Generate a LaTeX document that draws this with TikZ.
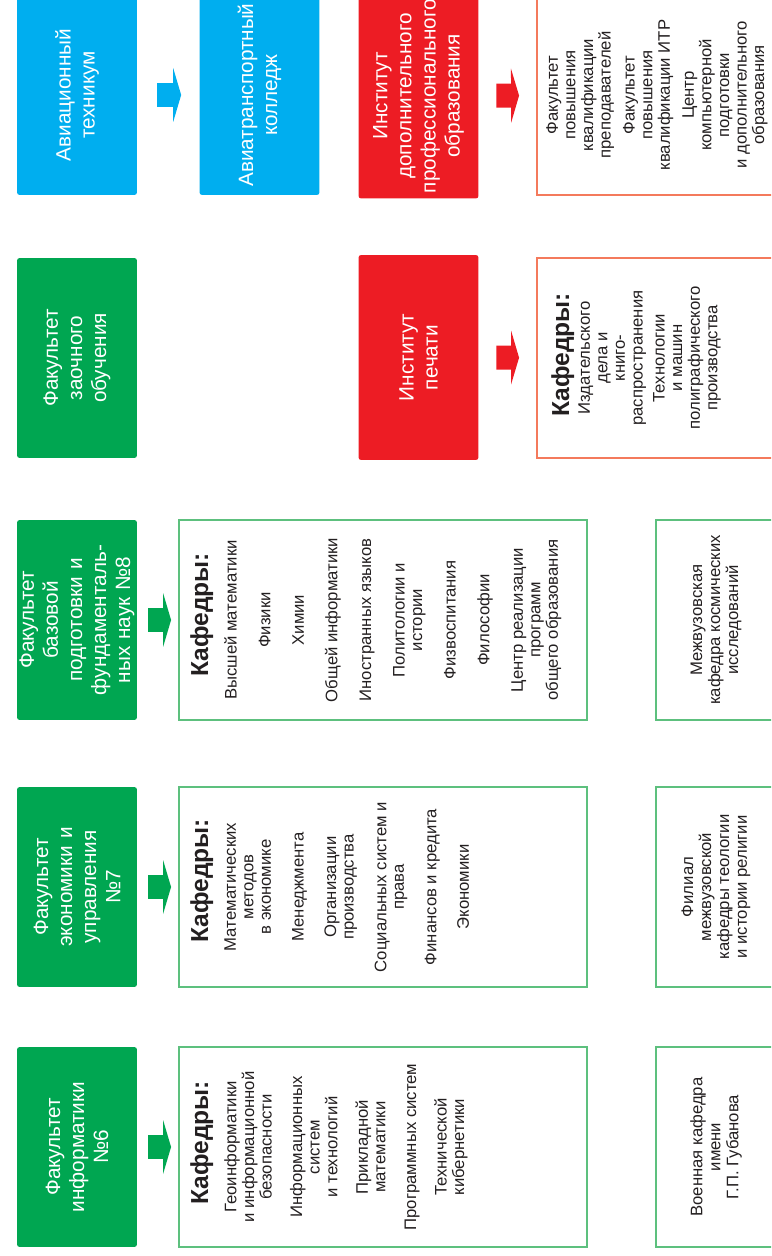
\documentclass[tikz,border=0pt]{standalone}
\usepackage{fontspec}
\setmainfont{Liberation Sans}
\usetikzlibrary{arrows.meta,positioning}

\definecolor{avblue}{HTML}{00AEEF}
\definecolor{fgreen}{HTML}{00A651}
\definecolor{ired}{HTML}{ED1C24}
\definecolor{gline}{HTML}{5DC07E}
\definecolor{rline}{HTML}{F47A5C}
\definecolor{ink}{HTML}{231F20}

\begin{document}
\begin{tikzpicture}[x=0.02cm, y=-0.02cm,
    fac/.style={rectangle, rotate=90, fill=#1, rounded corners=1.5pt, minimum width=4cm, minimum height=2.4cm, inner sep=0pt, text width=4cm, align=center, text=white, font=\fontsize{11.8}{13.7}\selectfont},
    frame/.style={rectangle, rotate=90, draw=#1, line width=1.1pt, minimum width=4cm, inner sep=0pt},
    side/.style={rectangle, rotate=90, draw=gline, line width=1.1pt, minimum width=4cm, minimum height=2.4cm, inner sep=0pt, align=center, text=ink, font=\fontsize{9.5}{10.2}\selectfont},
    items/.style={rotate=90, inner sep=0pt, anchor=north, align=center, text=ink, font=\fontsize{9.5}{10}\selectfont},
    head/.style={rotate=90, inner sep=0pt, anchor=north west, text=ink, font=\fontsize{14}{16}\selectfont\bfseries},
    arr/.style={color=#1, line width=0.48cm, -{Triangle[length=0.16cm, width=1.08cm, line width=0pt]}}
]
    \useasboundingbox (0,0) rectangle (771,1256);
    \clip (0,0) rectangle (771,1256);

    \node[fac=avblue] (tech) at (77,95) {Авиационный\\ техникум};
    \node[fac=avblue] (college) at (259.5,95) {Авиатранспортный\\ колледж};
    \node[fac=ired, minimum width=4.1cm] (idpo) at (418.5,96) {Институт\\ дополнительного\\ профессионального\\ образования};
    \node[frame=rline, minimum height=4.86cm] (idpoDeps) at (658.5,95) {};
    \node[items] (idpoList) at (546,95) {Факультет\\ повышения\\ квалификации\\ преподавателей\\[1.3mm]
        Факультет\\ повышения\\ квалификации ИТР\\[1.3mm]
        Центр\\ компьютерной\\ подготовки\\ и дополнительного\\ образования};

    \node[fac=fgreen] (zfo) at (77,358) {Факультет\\ заочного\\ обучения};
    \node[fac=ired, minimum width=4.1cm] (ip) at (418.5,357.5) {Институт\\ печати};
    \node[frame=rline, minimum height=4.86cm] (ipDeps) at (658.5,358) {};
    \node[head] (ipHead) at (551,417) {Кафедры:};
    \node[items] (ipList) at (578,358) {Издательского\\ дела и\\ книго-\\ распространения\\[0.9mm]
        Технологии\\ и машин\\ полиграфического\\ производства};

    \node[fac=fgreen] (fbf) at (77,620) {Факультет\\ базовой\\ подготовки и\\ фундаменталь-\\ ных наук №8};
    \node[frame=gline, minimum height=8.16cm] (kaf8) at (383,620) {};
    \node[head] (kaf8Head) at (190,677) {Кафедры:};
    \node[items] (kaf8List) at (224,620) {Высшей математики\\[3.2mm] Физики\\[3.2mm] Химии\\[3.2mm]
        Общей информатики\\[3.2mm] Иностранных языков\\[3.2mm] Политологии и\\ истории\\[3.2mm]
        Физвоспитания\\[3.2mm] Философии\\[3.2mm] Центр реализации\\ программ\\ общего образования};
    \node[side] (mkki) at (716,620) {Межвузовская\\ кафедра космических\\ исследований};

    \node[fac=fgreen] (feu) at (77,887) {Факультет\\ экономики и\\ управления\\ №7};
    \node[frame=gline, minimum height=8.16cm] (kaf7) at (383,887) {};
    \node[head] (kaf7Head) at (190,943) {Кафедры:};
    \node[items] (kaf7List) at (224,887) {Математических\\ методов\\ в экономике\\[3mm] Менеджмента\\[3mm]
        Организации\\ производства\\[3mm] Социальных систем и\\ права\\[3mm]
        Финансов и кредита\\[3mm] Экономики};
    \node[side] (filial) at (716,887) {Филиал\\ межвузовской\\ кафедры теологии\\ и истории религии};

    \node[fac=fgreen] (finf) at (77,1147) {Факультет\\ информатики\\ №6};
    \node[frame=gline, minimum height=8.16cm] (kaf6) at (383,1147) {};
    \node[head] (kaf6Head) at (190,1205) {Кафедры:};
    \node[items] (kaf6List) at (224,1147) {Геоинформатики\\ и информационной\\ безопасности\\[2.6mm]
        Информационных\\ систем\\ и технологий\\[2.6mm] Прикладной\\ математики\\[2.6mm]
        Программных систем\\[2.6mm] Технической\\ кибернетики};
    \node[side] (voen) at (716,1147) {Военная кафедра\\ имени\\ Г.П. Губанова};

    \draw[arr=avblue, shorten <=0.4cm, shorten >=0.36cm] (tech) -- (college);
    \draw[arr=ired, shorten <=0.35cm, shorten >=0.34cm] (idpo) -- (idpoDeps);
    \draw[arr=ired, shorten <=0.35cm, shorten >=0.34cm] (ip) -- (ipDeps);
    \draw[arr=fgreen, shorten <=0.22cm, shorten >=0.14cm] (fbf) -- (kaf8);
    \draw[arr=fgreen, shorten <=0.22cm, shorten >=0.14cm] (feu) -- (kaf7);
    \draw[arr=fgreen, shorten <=0.22cm, shorten >=0.14cm] (finf) -- (kaf6);
\end{tikzpicture}
\end{document}
